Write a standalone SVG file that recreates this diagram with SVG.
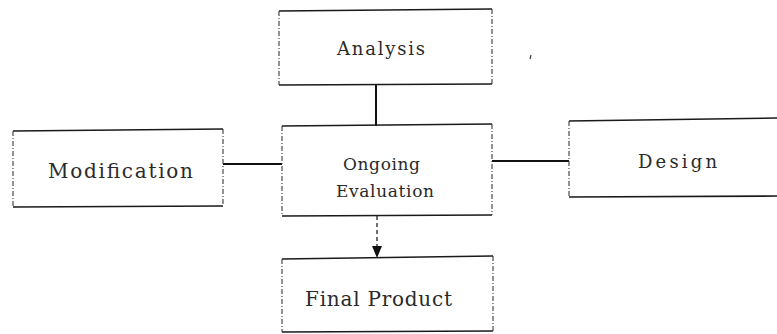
<svg xmlns="http://www.w3.org/2000/svg" width="777" height="334" viewBox="0 0 777 334">
  <style>
    .h { stroke: #1a1a1a; stroke-width: 1.6; fill: none; }
    .v { stroke: #3a3a3a; stroke-width: 1.1; fill: none; stroke-dasharray: 5 2 1 2; }
    .conn { stroke: #111; stroke-width: 2; fill: none; }
    .dash { stroke: #222; stroke-width: 1.3; fill: none; stroke-dasharray: 4 3; }
    text { fill: #2a2a2a; font-family: 'DejaVu Serif', 'Liberation Serif', serif; }
  </style>
  <defs>
    <marker id="arrow" viewBox="0 0 12 10" refX="12" refY="5" markerWidth="12" markerHeight="10" markerUnits="userSpaceOnUse" orient="auto">
      <path d="M0,0 L12,5 L0,10 Z" fill="#111"/>
    </marker>
  </defs>
  <rect width="777" height="334" fill="#ffffff"/>

  <g id="connectors">
    <line class="conn" x1="376" y1="85" x2="376" y2="126"/>
    <line class="conn" x1="223" y1="164" x2="282" y2="164"/>
    <line class="conn" x1="492" y1="161" x2="569" y2="161"/>
    <line class="dash" x1="377" y1="216" x2="377" y2="258" marker-end="url(#arrow)"/>
  </g>

  <g id="analysis">
    <path class="h" d="M279,11 L492,9 M279,85 L492,84"/>
    <path class="v" d="M279,11 L279,85 M492,9 L492,84"/>
    <text x="337" y="55" font-size="18" textLength="88" lengthAdjust="spacing">Analysis</text>
  </g>

  <g id="modification">
    <path class="h" d="M13,131 L223,129 M13,207 L223,206"/>
    <path class="v" d="M13,131 L13,207 M223,129 L223,206"/>
    <text x="48" y="178" font-size="20" textLength="145" lengthAdjust="spacing">Modification</text>
  </g>

  <g id="ongoing-evaluation">
    <path class="h" d="M282,126 L492,124 M282,216 L492,215"/>
    <path class="v" d="M282,126 L282,216 M492,124 L492,215"/>
    <text x="343" y="170" font-size="17" textLength="77" lengthAdjust="spacing">Ongoing</text>
    <text x="336" y="197" font-size="17" textLength="98" lengthAdjust="spacing">Evaluation</text>
  </g>

  <g id="design">
    <path class="h" d="M569,121 L780,118 M569,197 L780,196"/>
    <path class="v" d="M569,121 L569,197"/>
    <text x="638" y="168" font-size="18" textLength="79" lengthAdjust="spacing">Design</text>
  </g>

  <g id="final-product">
    <path class="h" d="M282,259 L493,256 M282,332 L493,331"/>
    <path class="v" d="M282,259 L282,332 M493,256 L493,331"/>
    <text x="305" y="306" font-size="20" textLength="147" lengthAdjust="spacing">Final Product</text>
  </g>

  <!-- stray mark beside the top box -->
  <path d="M531,55 L530,59" stroke="#333" stroke-width="1.2"/>
</svg>
